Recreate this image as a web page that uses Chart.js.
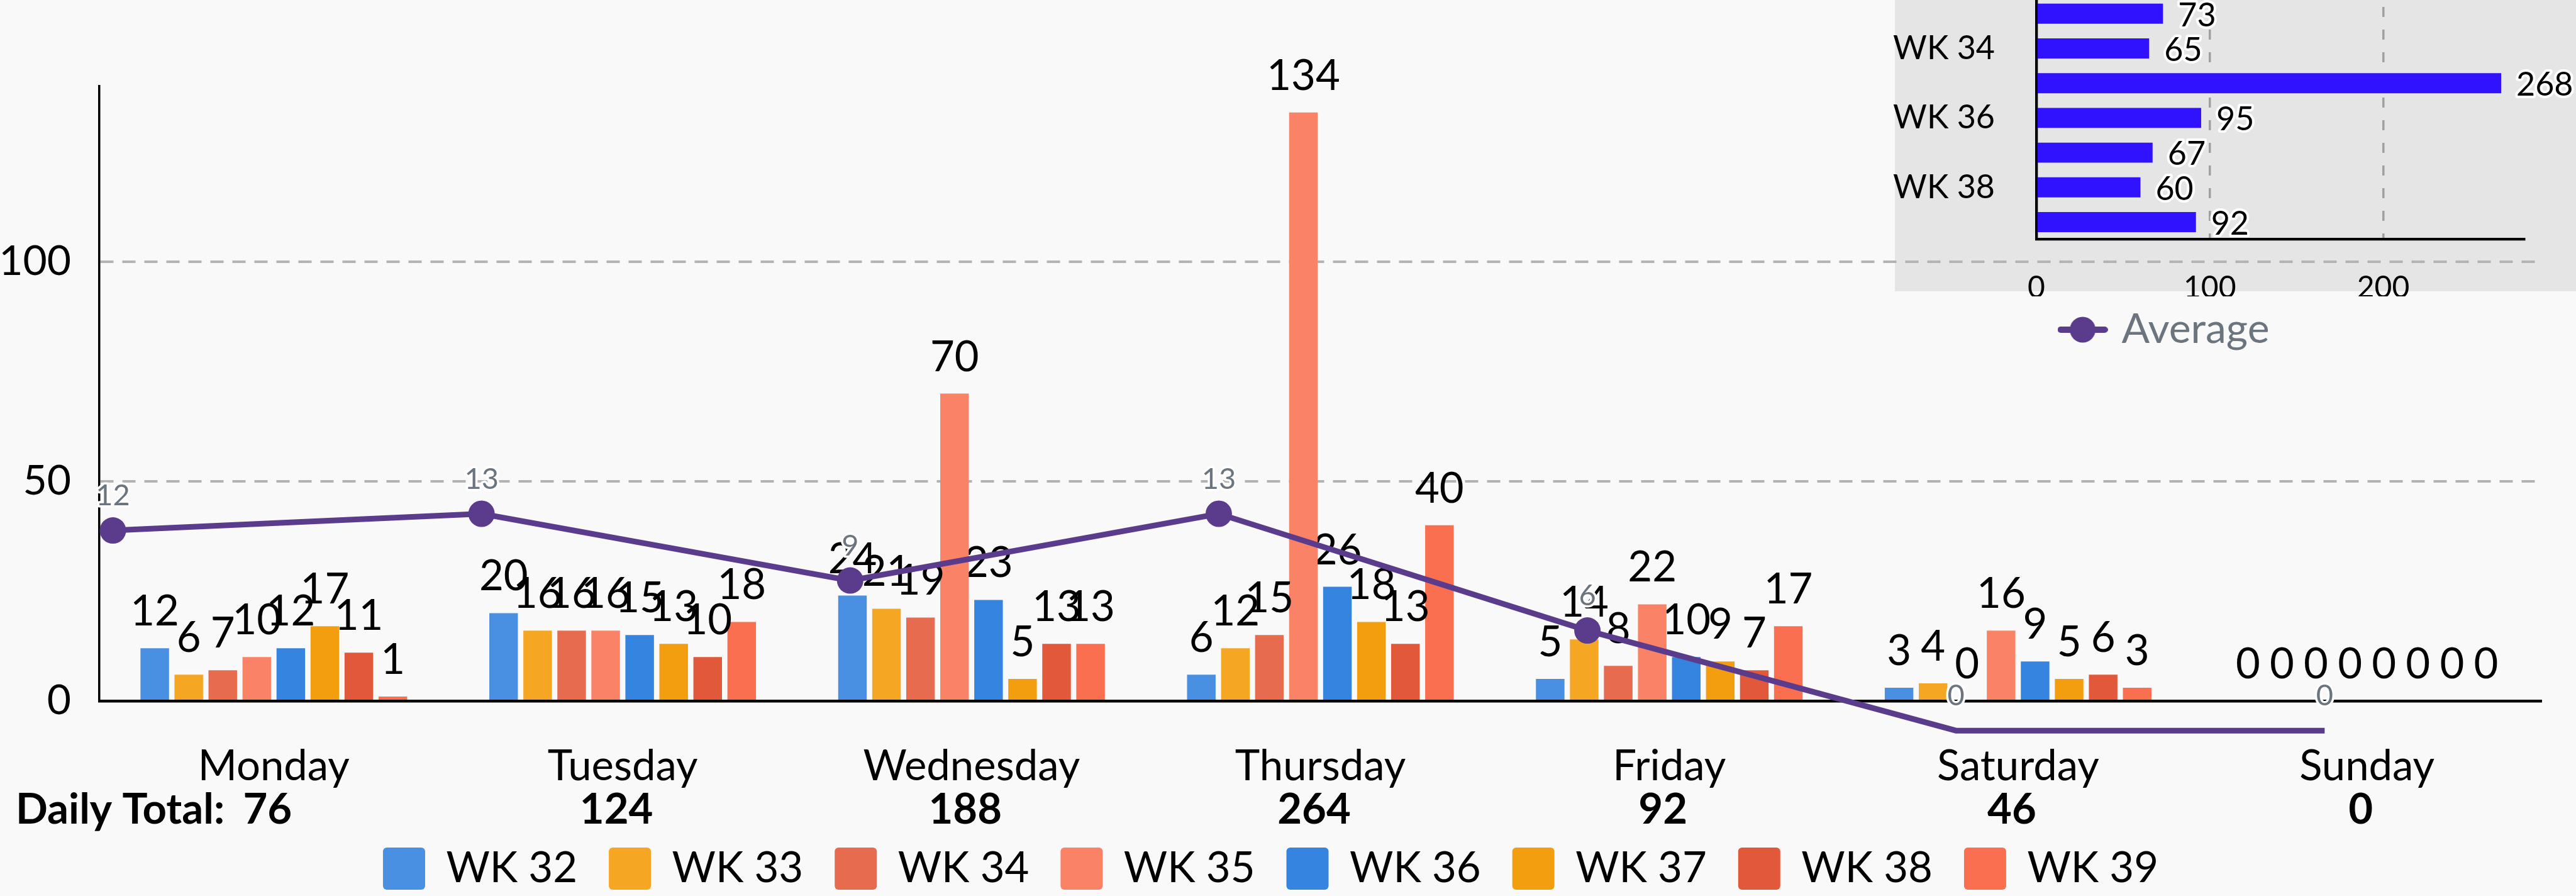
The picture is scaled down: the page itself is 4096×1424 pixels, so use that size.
<!DOCTYPE html>
<html><head><meta charset="utf-8">
<script src="https://cdn.jsdelivr.net/npm/chart.js@4.4.1/dist/chart.umd.min.js"></script>
<style>
html,body{margin:0;padding:0;background:#f9f9f9;overflow:hidden}
#wrap{position:relative;width:4096px;height:1424px;overflow:hidden;background:#f9f9f9}
#inset{position:absolute;left:2877px;top:-120px}
#main{position:absolute;left:0;top:0}
#avg{position:absolute;left:0;top:0}
</style></head><body>
<div id="wrap">
<canvas id="inset" width="1219" height="687"></canvas>
<canvas id="main" width="4096" height="1424"></canvas>
<canvas id="avg" width="4096" height="1424"></canvas>
</div>
<script>
// ---- data ----
const days = ['Monday','Tuesday','Wednesday','Thursday','Friday','Saturday','Sunday'];
const weeks = ['WK 32','WK 33','WK 34','WK 35','WK 36','WK 37','WK 38','WK 39'];
const wk32 = [12,20,24,6,5,3,0];
const wk33 = [6,16,21,12,14,4,0];
const wk34 = [7,16,19,15,8,0,0];
const wk35 = [10,16,70,134,22,16,0];
const wk36 = [12,15,23,26,10,9,0];
const wk37 = [17,13,5,18,9,5,0];
const wk38 = [11,10,13,13,7,6,0];
const wk39 = [1,18,13,40,17,3,0];
const average = [12,13,9,13,6,0,0];
const yTickValues = [0,50,100];
const insetTickValues = [0,100,200];
const weekColors = ['#4a90e2','#f5a623','#e66b4f','#fa8266','#3584df','#f29e0e','#e2583a','#f96f4f'];

const weekSeries = [wk32,wk33,wk34,wk35,wk36,wk37,wk38,wk39];
const dailyTotals = days.map((d,i)=>weekSeries.reduce((s,arr)=>s+arr[i],0));
const weeklyTotals = weekSeries.map(arr=>arr.reduce((s,v)=>s+v,0));

Chart.defaults.font.family = 'Lato';
Chart.defaults.color = '#000';

const PURPLE = '#5b3b8c';
const GRAY = '#6c757d';

// ---- main bar chart ----
const barLabelPlugin = {
  id:'barLabels',
  afterDatasetDraw(chart, args){
    const meta = args.meta;
    if (meta.type !== 'bar') return;
    const ds = chart.data.datasets[args.index];
    const ctx = chart.ctx;
    ctx.save();
    ctx.font = '67px Lato';
    ctx.fillStyle = '#000';
    ctx.textAlign = 'center';
    ctx.textBaseline = 'alphabetic';
    meta.data.forEach((el,i)=>{ ctx.fillText(String(ds.data[i]), el.x, el.y - 36); });
    ctx.restore();
  },
  afterDraw(chart){
    const ctx = chart.ctx;
    const xs = chart.scales.x;
    const y = chart.chartArea.bottom + 195;
    ctx.save();
    ctx.font = 'bold 67px Lato';
    ctx.fillStyle = '#000';
    ctx.textBaseline = 'alphabetic';
    ctx.textAlign = 'left';
    ctx.fillText('Daily Total:', 25, y);
    ctx.textAlign = 'center';
    dailyTotals.forEach((v,i)=>{ ctx.fillText(String(v), xs.getPixelForValue(i) - 10, y); });
    ctx.restore();
  }
};

new Chart(document.getElementById('main'), {
  type:'bar',
  data: {
    labels: days,
    datasets: weekSeries.map((d,i)=>({
      label: weeks[i], data: d, backgroundColor: weekColors[i],
      borderWidth:0, categoryPercentage:0.78, barPercentage:0.84
    }))
  },
  options: {
    responsive:false, animation:false, devicePixelRatio:1,
    layout:{padding:{top:137,right:55,left:0,bottom:0}},
    plugins:{
      legend:{position:'bottom', labels:{
        boxWidth:67, boxHeight:67, padding:50, font:{size:67}, color:'#000',
        useBorderRadius:true, borderRadius:6
      }},
      tooltip:{enabled:false}
    },
    scales:{
      x:{grid:{display:false, drawTicks:false},
         border:{color:'#000', width:4.5},
         ticks:{font:{size:67}, color:'#000', padding:64, maxRotation:0, autoSkip:false},
         afterFit: s => { s.height = 183; s.paddingLeft = 0; s.paddingRight = 0; }},
      y:{type:'linear', min:0, max:140, bounds:'data',
         afterBuildTicks: s => { s.ticks = yTickValues.map(v=>({value:v})); },
         grid:{color:'#b3b3b3', lineWidth:4, drawTicks:false},
         border:{color:'#000', width:3.5, dash:[21,14]},
         ticks:{font:{size:66}, color:'#000', padding:45},
         afterFit: s => { s.width = 158; s.paddingTop = 0; s.paddingBottom = 0; }}
    }
  },
  plugins:[barLabelPlugin]
});

// ---- average line overlay (same plot area) ----
const avgLabelPlugin = {
  id:'avgLabels',
  afterDatasetsDraw(chart){
    const meta = chart.getDatasetMeta(0);
    const ds = chart.data.datasets[0];
    const ctx = chart.ctx;
    ctx.save();
    ctx.font = '47px Lato';
    ctx.textAlign = 'center';
    ctx.textBaseline = 'alphabetic';
    ctx.lineJoin = 'round';
    ctx.lineWidth = 7;
    ctx.strokeStyle = '#fff';
    ctx.fillStyle = GRAY;
    meta.data.forEach((el,i)=>{
      const t = String(ds.data[i].y);
      ctx.strokeText(t, el.x, el.y - 40);
      ctx.fillText(t, el.x, el.y - 40);
    });
    ctx.restore();
  }
};

new Chart(document.getElementById('avg'), {
  type:'line',
  data: {
    datasets: [{
      label:'Average', data: average.map((v,i)=>({x:i, y:v})),
      borderColor:PURPLE, backgroundColor:PURPLE, borderWidth:9,
      pointRadius:21, pointBackgroundColor:PURPLE, pointBorderWidth:0,
      clip:false, tension:0, fill:false
    }]
  },
  options: {
    responsive:false, animation:false, devicePixelRatio:1,
    layout:{padding:{left:158, right:55, top:137, bottom:310}},
    plugins:{legend:{display:false}, tooltip:{enabled:false}},
    scales:{
      x:{type:'linear', display:false, bounds:'data', min:-0.0367, max:6.588},
      y:{type:'linear', display:false, bounds:'data', min:1.78, max:38.63}
    }
  },
  plugins:[avgLabelPlugin]
});

// ---- inset: weekly totals ----
const sym = document.createElement('canvas');
sym.width = 80; sym.height = 44;
(function(){
  const c = sym.getContext('2d');
  c.strokeStyle = PURPLE; c.lineWidth = 10; c.lineCap = 'round';
  c.beginPath(); c.moveTo(5,22); c.lineTo(75,22); c.stroke();
  c.fillStyle = PURPLE; c.beginPath(); c.arc(40,22,20.5,0,Math.PI*2); c.fill();
})();

const insetPlugin = {
  id:'insetDeco',
  beforeDraw(chart){
    const ctx = chart.ctx;
    ctx.save();
    ctx.fillStyle = '#e5e5e5';
    ctx.fillRect(136, 120, 1083, 463);
    ctx.restore();
  },
  afterDatasetsDraw(chart){
    const meta = chart.getDatasetMeta(0);
    const ds = chart.data.datasets[0];
    const ctx = chart.ctx;
    ctx.save();
    ctx.font = '52px Lato';
    ctx.textAlign = 'left';
    ctx.textBaseline = 'middle';
    ctx.lineJoin = 'round';
    ctx.lineWidth = 8;
    ctx.strokeStyle = '#fff';
    ctx.fillStyle = '#000';
    meta.data.forEach((el,i)=>{
      const t = String(ds.data[i]);
      ctx.strokeText(t, el.x + 24, el.y + 3);
      ctx.fillText(t, el.x + 24, el.y + 3);
    });
    ctx.restore();
  }
};

new Chart(document.getElementById('inset'), {
  data: {
    labels: weeks,
    datasets: [
      {type:'bar', label:'Weekly Total', data: weeklyTotals, backgroundColor:'#3112ff',
       borderWidth:0, categoryPercentage:1, barPercentage:0.577},
      {type:'line', label:'Average', data:[], borderColor:PURPLE, backgroundColor:PURPLE, pointStyle: sym}
    ]
  },
  options: {
    indexAxis:'y', responsive:false, animation:false, devicePixelRatio:1,
    layout:{padding:{top:59, right:82, left:0, bottom:0}},
    plugins:{
      legend:{position:'bottom', labels:{
        filter: it => it.text === 'Average',
        usePointStyle:true, pointStyleWidth:58, padding:20,
        font:{size:66}, color:GRAY
      }},
      tooltip:{enabled:false}
    },
    scales:{
      x:{type:'linear', position:'bottom', min:0, max: Math.max(...weeklyTotals)*1.05, bounds:'data',
         afterBuildTicks: s => { s.ticks = insetTickValues.map(v=>({value:v})); },
         grid:{color: c => (c.tick && c.tick.value === 0) ? 'rgba(0,0,0,0)' : '#a0a0a0', lineWidth:3.5, drawTicks:false},
         border:{color:'#000', width:4.3, dash:[16,20]},
         ticks:{font:{size:48}, color:'#000', padding:48},
         afterFit: s => { s.height = 90.4; s.paddingLeft = 0; s.paddingRight = 0; }},
      y:{type:'category', position:'left', grid:{display:false, drawTicks:false},
         border:{color:'#000', width:4.3},
         ticks:{font:{size:52}, color:'#000', padding:66, autoSkip:false,
           callback: function(v,i){ return i % 2 === 0 ? this.getLabelForValue(v) : ''; }},
         afterFit: s => { s.width = 361; s.paddingTop = 0; s.paddingBottom = 0; }}
    }
  },
  plugins:[insetPlugin]
});
</script>
</body></html>
